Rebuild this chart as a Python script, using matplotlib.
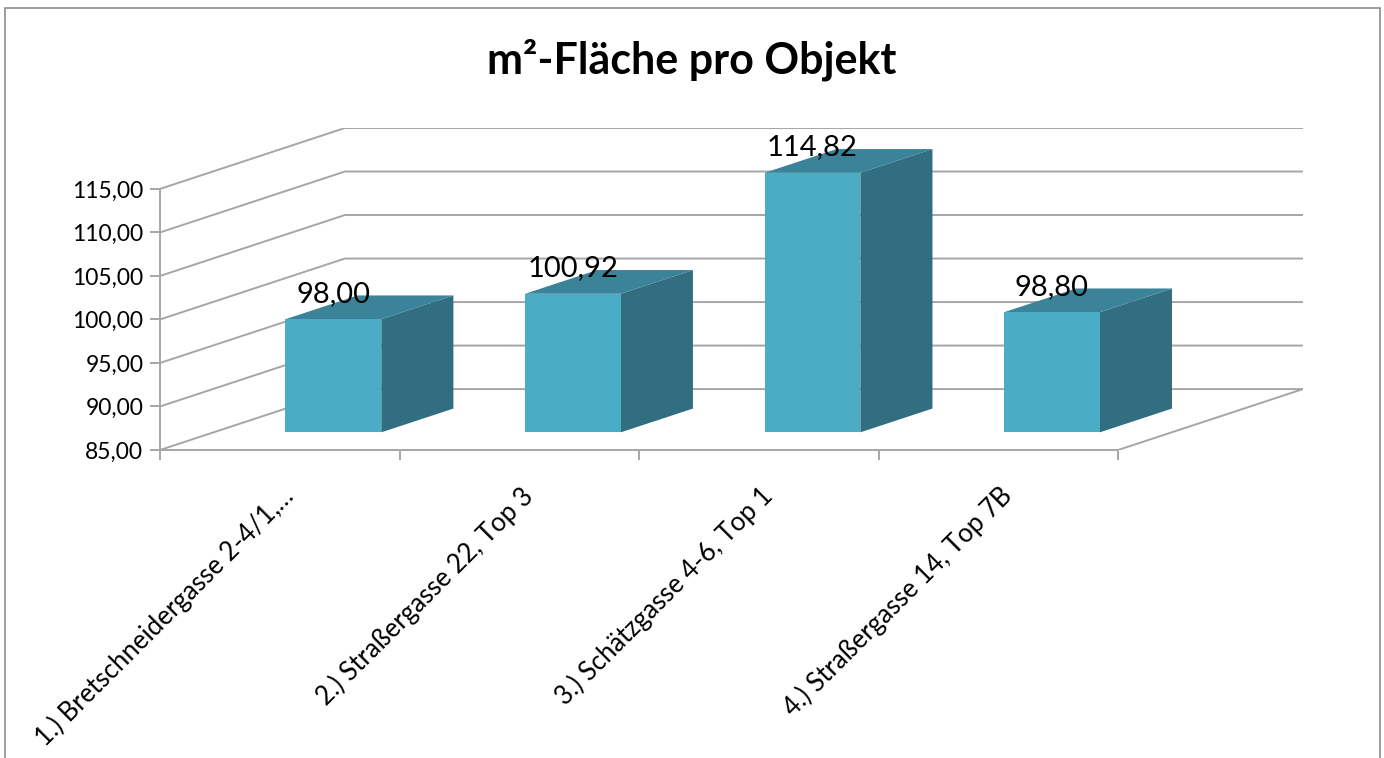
import numpy as np
import matplotlib
matplotlib.use("Agg")
import matplotlib.pyplot as plt
from matplotlib.patches import Polygon, Rectangle
from matplotlib.transforms import ScaledTranslation

plt.rcParams['font.family'] = ['Lato', 'DejaVu Sans']

categories = ["1.) Bretschneidergasse 2-4/1,…",
              "2.) Straßergasse 22, Top 3",
              "3.) Schätzgasse 4-6, Top 1",
              "4.) Straßergasse 14, Top 7B"]
values = [98.00, 100.92, 114.82, 98.80]
yticks = [85, 90, 95, 100, 105, 110, 115]

# fake 3d: depth of the box in data units
depth_x, depth_y = 0.772, 7.0
bar_d0, bar_d1 = 0.29, 0.68  # bar front/back as fraction of depth
bar_w = 0.4
ymin, ymax = yticks[0], yticks[-1]

c_front = '#4bacc6'
c_side = '#316e7f'
c_top = '#3a8399'
c_grid = '#a6a6a6'


def fmt(v):
    return f"{v:.2f}".replace('.', ',')


fig = plt.figure(figsize=(13.84, 7.58), dpi=100)
ax = fig.add_axes([160 / 1384, (758 - 450) / 758, (1303 - 160) / 1384, 322 / 758])
n = len(categories)
ax.set_xlim(0, n + depth_x)
ax.set_ylim(ymin, ymax + depth_y)

# walls / gridlines
for v in yticks:
    ax.plot([0, depth_x, n + depth_x], [v, v + depth_y, v + depth_y],
            color=c_grid, lw=1.4, zorder=1, solid_capstyle='butt')
# floor edge on the right
ax.plot([n, n + depth_x], [ymin, ymin + depth_y], color=c_grid, lw=1.4, zorder=1)

# bars
x = np.arange(n) + 0.5
fx, fy = bar_d0 * depth_x, bar_d0 * depth_y
bx, by = (bar_d1 - bar_d0) * depth_x, (bar_d1 - bar_d0) * depth_y
vals = np.array(values)
ax.bar(x + fx, vals - ymin, bottom=ymin + fy, width=bar_w, color=c_front, zorder=4)
for xi, v in zip(x, vals):
    xl, xr = xi + fx - bar_w / 2, xi + fx + bar_w / 2
    y0, y1 = ymin + fy, v + fy
    ax.add_patch(Polygon([(xr, y0), (xr, y1), (xr + bx, y1 + by), (xr + bx, y0 + by)],
                         closed=True, facecolor=c_side, edgecolor='none', zorder=3))
    ax.add_patch(Polygon([(xl, y1), (xr, y1), (xr + bx, y1 + by), (xl + bx, y1 + by)],
                         closed=True, facecolor=c_top, edgecolor='none', zorder=3))
    ax.text(xi + fx, v + fy + 2.0, fmt(v), ha='center', va='baseline',
            fontsize=21, color='black', zorder=5)

# axes
for s in ['top', 'right']:
    ax.spines[s].set_visible(False)
ax.spines['left'].set_bounds(ymin, ymax)
ax.spines['bottom'].set_bounds(0, n)
for s in ['left', 'bottom']:
    ax.spines[s].set_color(c_grid)
    ax.spines[s].set_linewidth(1.4)
ax.set_yticks(yticks)
ax.set_yticklabels([fmt(v) for v in yticks], fontsize=16.5)
ax.set_xticks(np.arange(n + 1))
ax.set_xticklabels([])
ax.tick_params(axis='both', colors=c_grid, length=7, width=1.4, labelcolor='black')
ax.tick_params(axis='y', pad=5)

off = ScaledTranslation(10 / 100, -42 / 100, fig.dpi_scale_trans)
for xi, lab in zip(x, categories):
    ax.text(xi, 0, lab, transform=ax.get_xaxis_transform() + off,
            rotation=45, rotation_mode='anchor', ha='right', va='center', fontsize=18.5)

fig.text(0.5, 1 - 60 / 758, "m²-Fläche pro Objekt", ha='center', va='center',
         fontsize=31, fontweight='bold')

fig.patches.append(Rectangle((5 / 1384, -0.1), 1375 / 1384, 0.1 + 1 - 8 / 758,
                             transform=fig.transFigure, fill=False,
                             edgecolor='#8c8c8c', lw=1.2))

fig.savefig("out.png", dpi=100)
